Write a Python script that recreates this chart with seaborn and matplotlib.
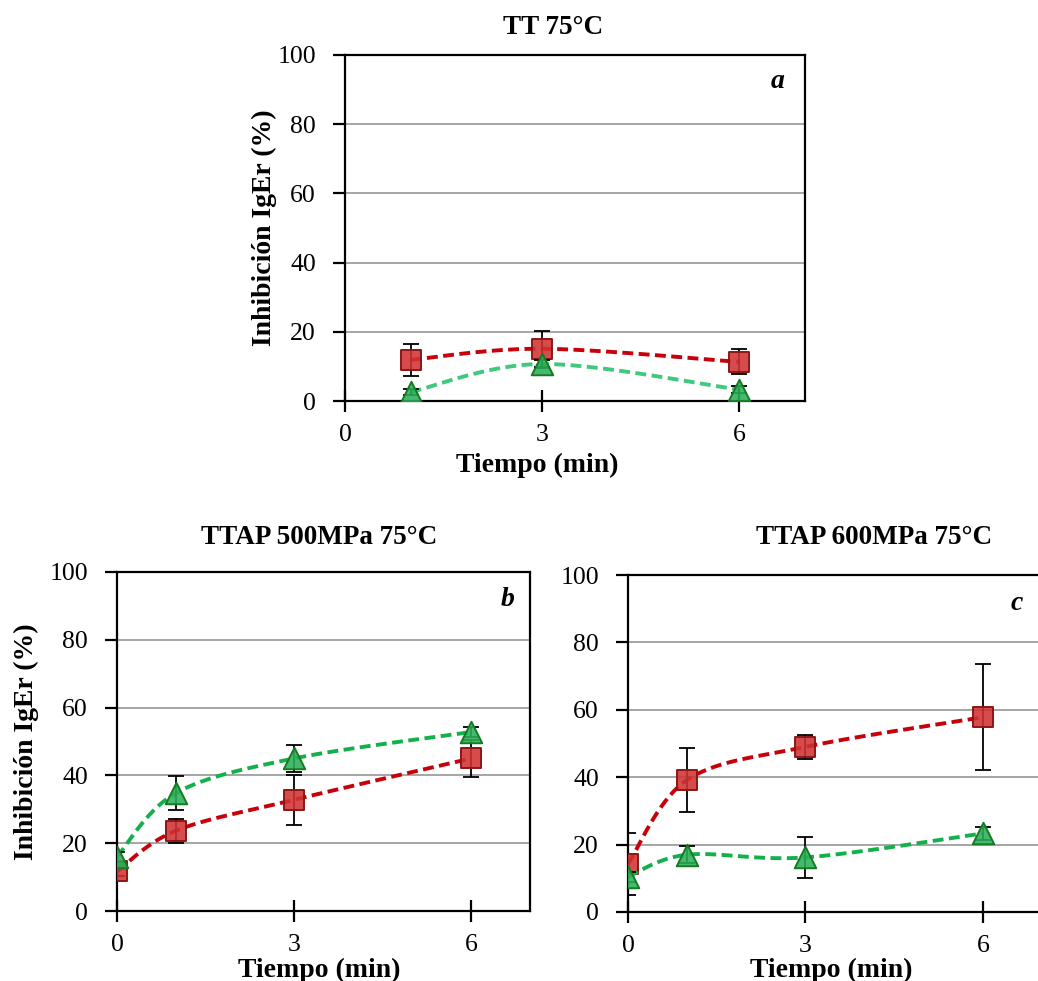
import numpy as np
import pandas as pd
import matplotlib
matplotlib.use("Agg")
import matplotlib.pyplot as plt
import seaborn as sns

# --- data -------------------------------------------------------------
# Panel a: TT 75°C
a_time = [1, 3, 6]
a_red = [11.9, 15.1, 11.3]
a_red_err = [4.7, 5.2, 3.6]
a_green = [2.6, 10.7, 3.3]
a_green_err = [1.0, 1.2, 1.1]

# Panel b: TTAP 500MPa 75°C
b_time = [0, 1, 3, 6]
b_red = [11.7, 23.7, 32.8, 45.0]
b_red_err = [1.5, 3.5, 7.4, 5.5]
b_green = [16.0, 34.8, 45.0, 52.8]
b_green_err = [1.5, 5.0, 4.0, 1.5]

# Panel c: TTAP 600MPa 75°C
c_time = [0, 1, 3, 6]
c_red = [14.2, 39.2, 49.0, 57.8]
c_red_err = [9.2, 9.5, 3.6, 15.7]
c_green = [10.5, 17.0, 16.2, 23.3]
c_green_err = [1.5, 2.5, 6.0, 1.8]

titles = ["TT 75°C", "TTAP 500MPa 75°C", "TTAP 600MPa 75°C"]
letters = ["a", "b", "c"]
x_ticks = [0, 3, 6]
y_ticks = [0, 20, 40, 60, 80, 100]
x_label = "Tiempo (min)"
y_label = "Inhibición IgEr (%)"

# --- style ------------------------------------------------------------
sns.set_theme(style="white")
plt.rcParams["font.family"] = ["Liberation Serif", "DejaVu Serif"]
plt.rcParams["text.color"] = "black"
plt.rcParams["xtick.color"] = "black"
plt.rcParams["ytick.color"] = "black"

W, H = 1038, 981
fig = plt.figure(figsize=(W / 100, H / 100), dpi=100)


def fx(x):
    return x / W


def fy(y):
    return 1 - y / H


def smooth(xs, ys, n=40):
    """Cubic Bezier smoothing through the points (spreadsheet style)."""
    p = np.column_stack([xs, ys]).astype(float)
    ext = np.vstack([p[0], p, p[-1]])
    out = []
    t = np.linspace(0, 1, n)[:, None]
    for i in range(len(p) - 1):
        p0, p1 = ext[i + 1], ext[i + 2]
        c1 = p0 + (ext[i + 2] - ext[i]) / 6
        c2 = p1 - (ext[i + 3] - ext[i + 1]) / 6
        seg = ((1 - t) ** 3) * p0 + 3 * ((1 - t) ** 2) * t * c1 \
            + 3 * (1 - t) * t ** 2 * c2 + t ** 3 * p1
        out.append(seg if i == 0 else seg[1:])
    out = np.vstack(out)
    return out[:, 0], out[:, 1]


RED_LINE = "#c8000a"
RED_FILL = (0.82, 0.2, 0.2, 0.88)
RED_EDGE = "#8c1616"
GREEN_FILL = (0.17, 0.69, 0.35, 0.88)
GREEN_EDGE = "#157a22"

panels = [
    dict(rect=[fx(345), fy(401), fx(460), 346 / H], t=a_time,
         red=a_red, red_err=a_red_err, green=a_green, green_err=a_green_err,
         green_line="#3ec97c", title_xy=(553, 28), letter_xy=(778, 81),
         xlabel_xy=(537, 465), ylabel_xy=(264, 228)),
    dict(rect=[fx(117), fy(911), fx(413), 339 / H], t=b_time,
         red=b_red, red_err=b_red_err, green=b_green, green_err=b_green_err,
         green_line="#14b04c", title_xy=(319, 537), letter_xy=(508, 600),
         xlabel_xy=(319, 970), ylabel_xy=(26, 742)),
    dict(rect=[fx(628), fy(912), fx(420), 337 / H], t=c_time,
         red=c_red, red_err=c_red_err, green=c_green, green_err=c_green_err,
         green_line="#14b04c", title_xy=(874, 537), letter_xy=(1017, 604),
         xlabel_xy=(831, 970), ylabel_xy=None),
]

for i, pnl in enumerate(panels):
    ax = fig.add_axes(pnl["rect"])
    xmax = 7 if i < 2 else 7 * 420 / 414
    ax.set_xlim(0, xmax)
    ax.set_ylim(0, 100)

    # horizontal gridlines
    for yv in y_ticks[1:-1]:
        ax.axhline(yv, color="#9e9e9e", lw=1.3, zorder=0)

    series = [
        (pnl["red"], pnl["red_err"], RED_LINE, "s", RED_FILL, RED_EDGE, 14.5),
        (pnl["green"], pnl["green_err"], pnl["green_line"], "^", GREEN_FILL,
         GREEN_EDGE, 15.5),
    ]
    for k, (vals, errs, lcol, mk, fill, edge, ms) in enumerate(series):
        sx, sy = smooth(pnl["t"], vals)
        curve = pd.DataFrame({"t": sx, "v": sy})
        sns.lineplot(data=curve, x="t", y="v", ax=ax, sort=False,
                     estimator=None, color=lcol, lw=2.8,
                     zorder=2 + 2 * k)
        ax.lines[-1].set_dashes((2.8, 1.4))
        ax.errorbar(pnl["t"], vals, yerr=errs, fmt="none", ecolor="black",
                    elinewidth=1.3, capsize=5.5, capthick=1.3,
                    zorder=2 + 2 * k)
        pts = pd.DataFrame({"t": pnl["t"], "v": vals})
        sns.scatterplot(data=pts, x="t", y="v", ax=ax, marker=mk, s=ms ** 2,
                        color=fill, edgecolor=edge, linewidth=1.4,
                        zorder=3 + 2 * k)

    ax.set_xticks(x_ticks)
    ax.set_yticks(y_ticks)
    ax.set_xticklabels([str(v) for v in x_ticks])
    ax.set_yticklabels([str(v) for v in y_ticks])
    ax.set_xlabel("")
    ax.set_ylabel("")
    ax.tick_params(axis="y", direction="out", length=9, width=1.6,
                   labelsize=18.5, pad=12, colors="black", left=True)
    ax.tick_params(axis="x", direction="inout", length=16, width=1.6,
                   labelsize=18.5, pad=8.5, colors="black", bottom=True)
    for sp in ax.spines.values():
        sp.set_color("black")
        sp.set_linewidth(1.6)
    ax.set_facecolor("white")

    fig.text(fx(pnl["title_xy"][0]), fy(pnl["title_xy"][1]), titles[i],
             ha="center", va="center", fontsize=19.5, fontweight="bold")
    fig.text(fx(pnl["letter_xy"][0]), fy(pnl["letter_xy"][1]), letters[i],
             ha="center", va="center", fontsize=20, fontweight="bold",
             fontstyle="italic")
    fig.text(fx(pnl["xlabel_xy"][0]), fy(pnl["xlabel_xy"][1]), x_label,
             ha="center", va="center", fontsize=20, fontweight="bold")
    if pnl["ylabel_xy"] is not None:
        fig.text(fx(pnl["ylabel_xy"][0]), fy(pnl["ylabel_xy"][1]), y_label,
                 ha="center", va="center", fontsize=20, fontweight="bold",
                 rotation=90)

fig.savefig("out.png", dpi=100, facecolor="white")
